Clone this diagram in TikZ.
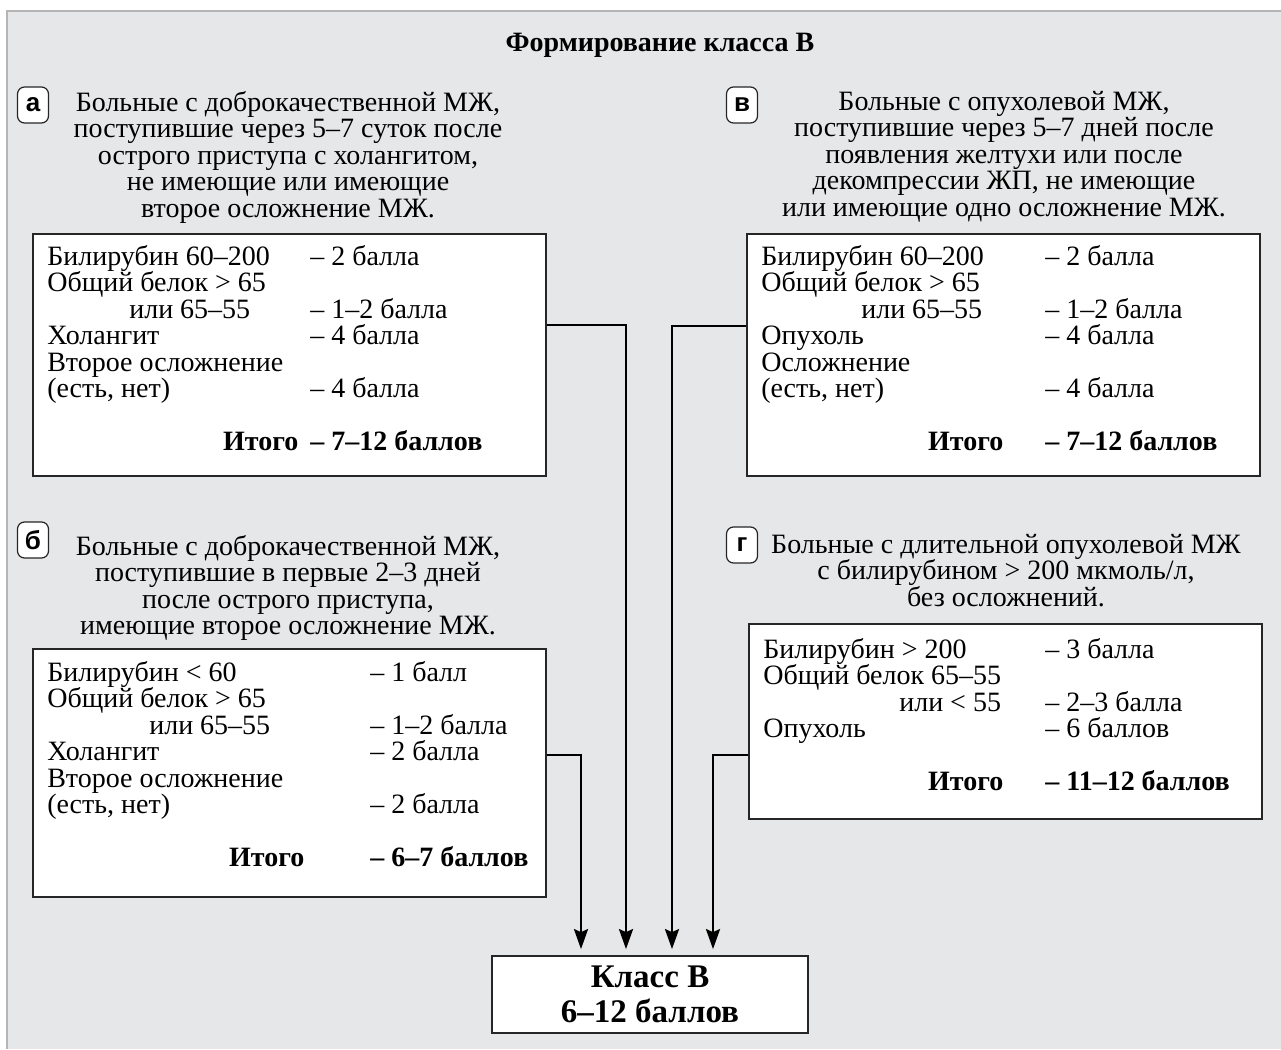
\documentclass[tikz,border=0pt]{standalone}
\usepackage{fontspec}
\setmainfont{Liberation Serif}
\newfontfamily\badgefont{Liberation Sans}
\usetikzlibrary{arrows.meta}
\definecolor{panelgray}{HTML}{E6E7E8}
\definecolor{framegray}{HTML}{B5B5B5}
\newcommand{\rowfont}{\fontsize{28}{26.5}\selectfont}
% one row of a score table: left column width, left text, right text
\newcommand{\scoreline}[3]{\makebox[#1][l]{#2}#3}
\newcommand{\totalline}[4]{\makebox[#1][r]{\textbf{Итого}\hspace*{#2}}\textbf{#3}}

\begin{document}
\begin{tikzpicture}[
    x=1pt, y=-1pt,
    box/.style={rectangle, draw=black!85, line width=1.8pt, fill=white, inner sep=0pt},
    groupbox/.style={box, minimum width=513pt, minimum height=242pt},
    badge/.style={rectangle, draw=black!85, line width=1.2pt, fill=white, rounded corners=7pt, minimum width=31pt, minimum height=36pt, inner sep=0pt, font=\badgefont\bfseries\fontsize{26}{26}\selectfont},
    groupcap/.style={align=center, inner sep=0pt, anchor=north, font=\rowfont},
    scores/.style={align=left, anchor=north west, inner sep=0pt, font=\rowfont},
    arrow/.style={line width=2.6pt, -{Stealth[length=20pt, width=14pt, inset=3pt]}, shorten >=6pt}
]
\useasboundingbox (0,0) rectangle (1281,1049);

% Panel
\fill[panelgray] (7,11) rectangle (1281,1049);
\draw[framegray, line width=2pt] (7,1049) -- (7,11) -- (1281,11);

\node[font=\bfseries\fontsize{28}{30}\selectfont] (title) at (660,45) {Формирование класса В};

% Group a
\node[badge] (tagA) at (33,105) {а};
\node[groupcap] (capA) at (288,91) {Больные с доброкачественной МЖ,\\поступившие через 5–7 суток после\\острого приступа с холангитом,\\не имеющие или имеющие\\второе осложнение МЖ.};
\node[groupbox] (boxA) at (289.5,355) {};
\node[scores] (tabA) at ([xshift=15pt, yshift=-11.7pt]boxA.north west) {%
\scoreline{263pt}{Билирубин 60–200}{– 2 балла}\\
\scoreline{263pt}{Общий белок > 65}{}\\
\scoreline{263pt}{\hspace*{82pt}или 65–55}{– 1–2 балла}\\
\scoreline{263pt}{Холангит}{– 4 балла}\\
\scoreline{263pt}{Второе осложнение}{}\\
\scoreline{263pt}{(есть, нет)}{– 4 балла}\\[26.5pt]
\totalline{263pt}{12pt}{– 7–12 баллов}{}};

% Group b
\node[badge] (tagB) at (33,540) {б};
\node[groupcap] (capB) at (288,535) {Больные с доброкачественной МЖ,\\поступившие в первые 2–3 дней\\после острого приступа,\\имеющие второе осложнение МЖ.};
\node[groupbox, minimum height=248pt] (boxB) at (289.5,773) {};
\node[scores] (tabB) at ([xshift=15pt, yshift=-12.7pt]boxB.north west) {%
\scoreline{323pt}{Билирубин < 60}{– 1 балл}\\
\scoreline{323pt}{Общий белок > 65}{}\\
\scoreline{323pt}{\hspace*{102pt}или 65–55}{– 1–2 балла}\\
\scoreline{323pt}{Холангит}{– 2 балла}\\
\scoreline{323pt}{Второе осложнение}{}\\
\scoreline{323pt}{(есть, нет)}{– 2 балла}\\[26.5pt]
\totalline{323pt}{66pt}{– 6–7 баллов}{}};

% Group v
\node[badge] (tagV) at (742,105) {в};
\node[groupcap] (capV) at (1004,91) {Больные с опухолевой МЖ,\\поступившие через 5–7 дней после\\появления желтухи или после\\декомпрессии ЖП, не имеющие\\или имеющие одно осложнение МЖ.};
\node[groupbox] (boxV) at (1003.5,355) {};
\node[scores] (tabV) at ([xshift=15pt, yshift=-11.7pt]boxV.north west) {%
\scoreline{284pt}{Билирубин 60–200}{– 2 балла}\\
\scoreline{284pt}{Общий белок > 65}{}\\
\scoreline{284pt}{\hspace*{100pt}или 65–55}{– 1–2 балла}\\
\scoreline{284pt}{Опухоль}{– 4 балла}\\
\scoreline{284pt}{Осложнение}{}\\
\scoreline{284pt}{(есть, нет)}{– 4 балла}\\[26.5pt]
\totalline{284pt}{42pt}{– 7–12 баллов}{}};

% Group g
\node[badge] (tagG) at (742,545) {г};
\node[groupcap] (capG) at (1006,534) {Больные с длительной опухолевой МЖ\\с билирубином > 200 мкмоль/л,\\без осложнений.};
\node[groupbox, minimum height=195pt] (boxG) at (1005.5,721.5) {};
\node[scores] (tabG) at ([xshift=15pt, yshift=-14.7pt]boxG.north west) {%
\scoreline{282pt}{Билирубин > 200}{– 3 балла}\\
\scoreline{282pt}{Общий белок 65–55}{}\\
\scoreline{282pt}{\hspace*{136pt}или < 55}{– 2–3 балла}\\
\scoreline{282pt}{Опухоль}{– 6 баллов}\\[26.5pt]
\totalline{282pt}{42pt}{– 11–12 баллов}{}};

% Result
\node[box, minimum width=316pt, minimum height=77pt, align=center, font=\bfseries\fontsize{33}{35}\selectfont] (classB) at (650,994.5) {Класс В\\6–12 баллов};

% Connections
\coordinate (inB) at ([xshift=-69pt]classB.north);
\coordinate (inA) at ([xshift=-24pt]classB.north);
\coordinate (inV) at ([xshift=22pt]classB.north);
\coordinate (inG) at ([xshift=63pt]classB.north);

\draw[arrow] ([yshift=30pt]boxA.east) -| (inA);
\draw[arrow] ([yshift=29pt]boxV.west) -| (inV);
\draw[arrow] ([yshift=18pt]boxB.east) -| (inB);
\draw[arrow] ([yshift=-33.5pt]boxG.west) -| (inG);

\end{tikzpicture}
\end{document}
